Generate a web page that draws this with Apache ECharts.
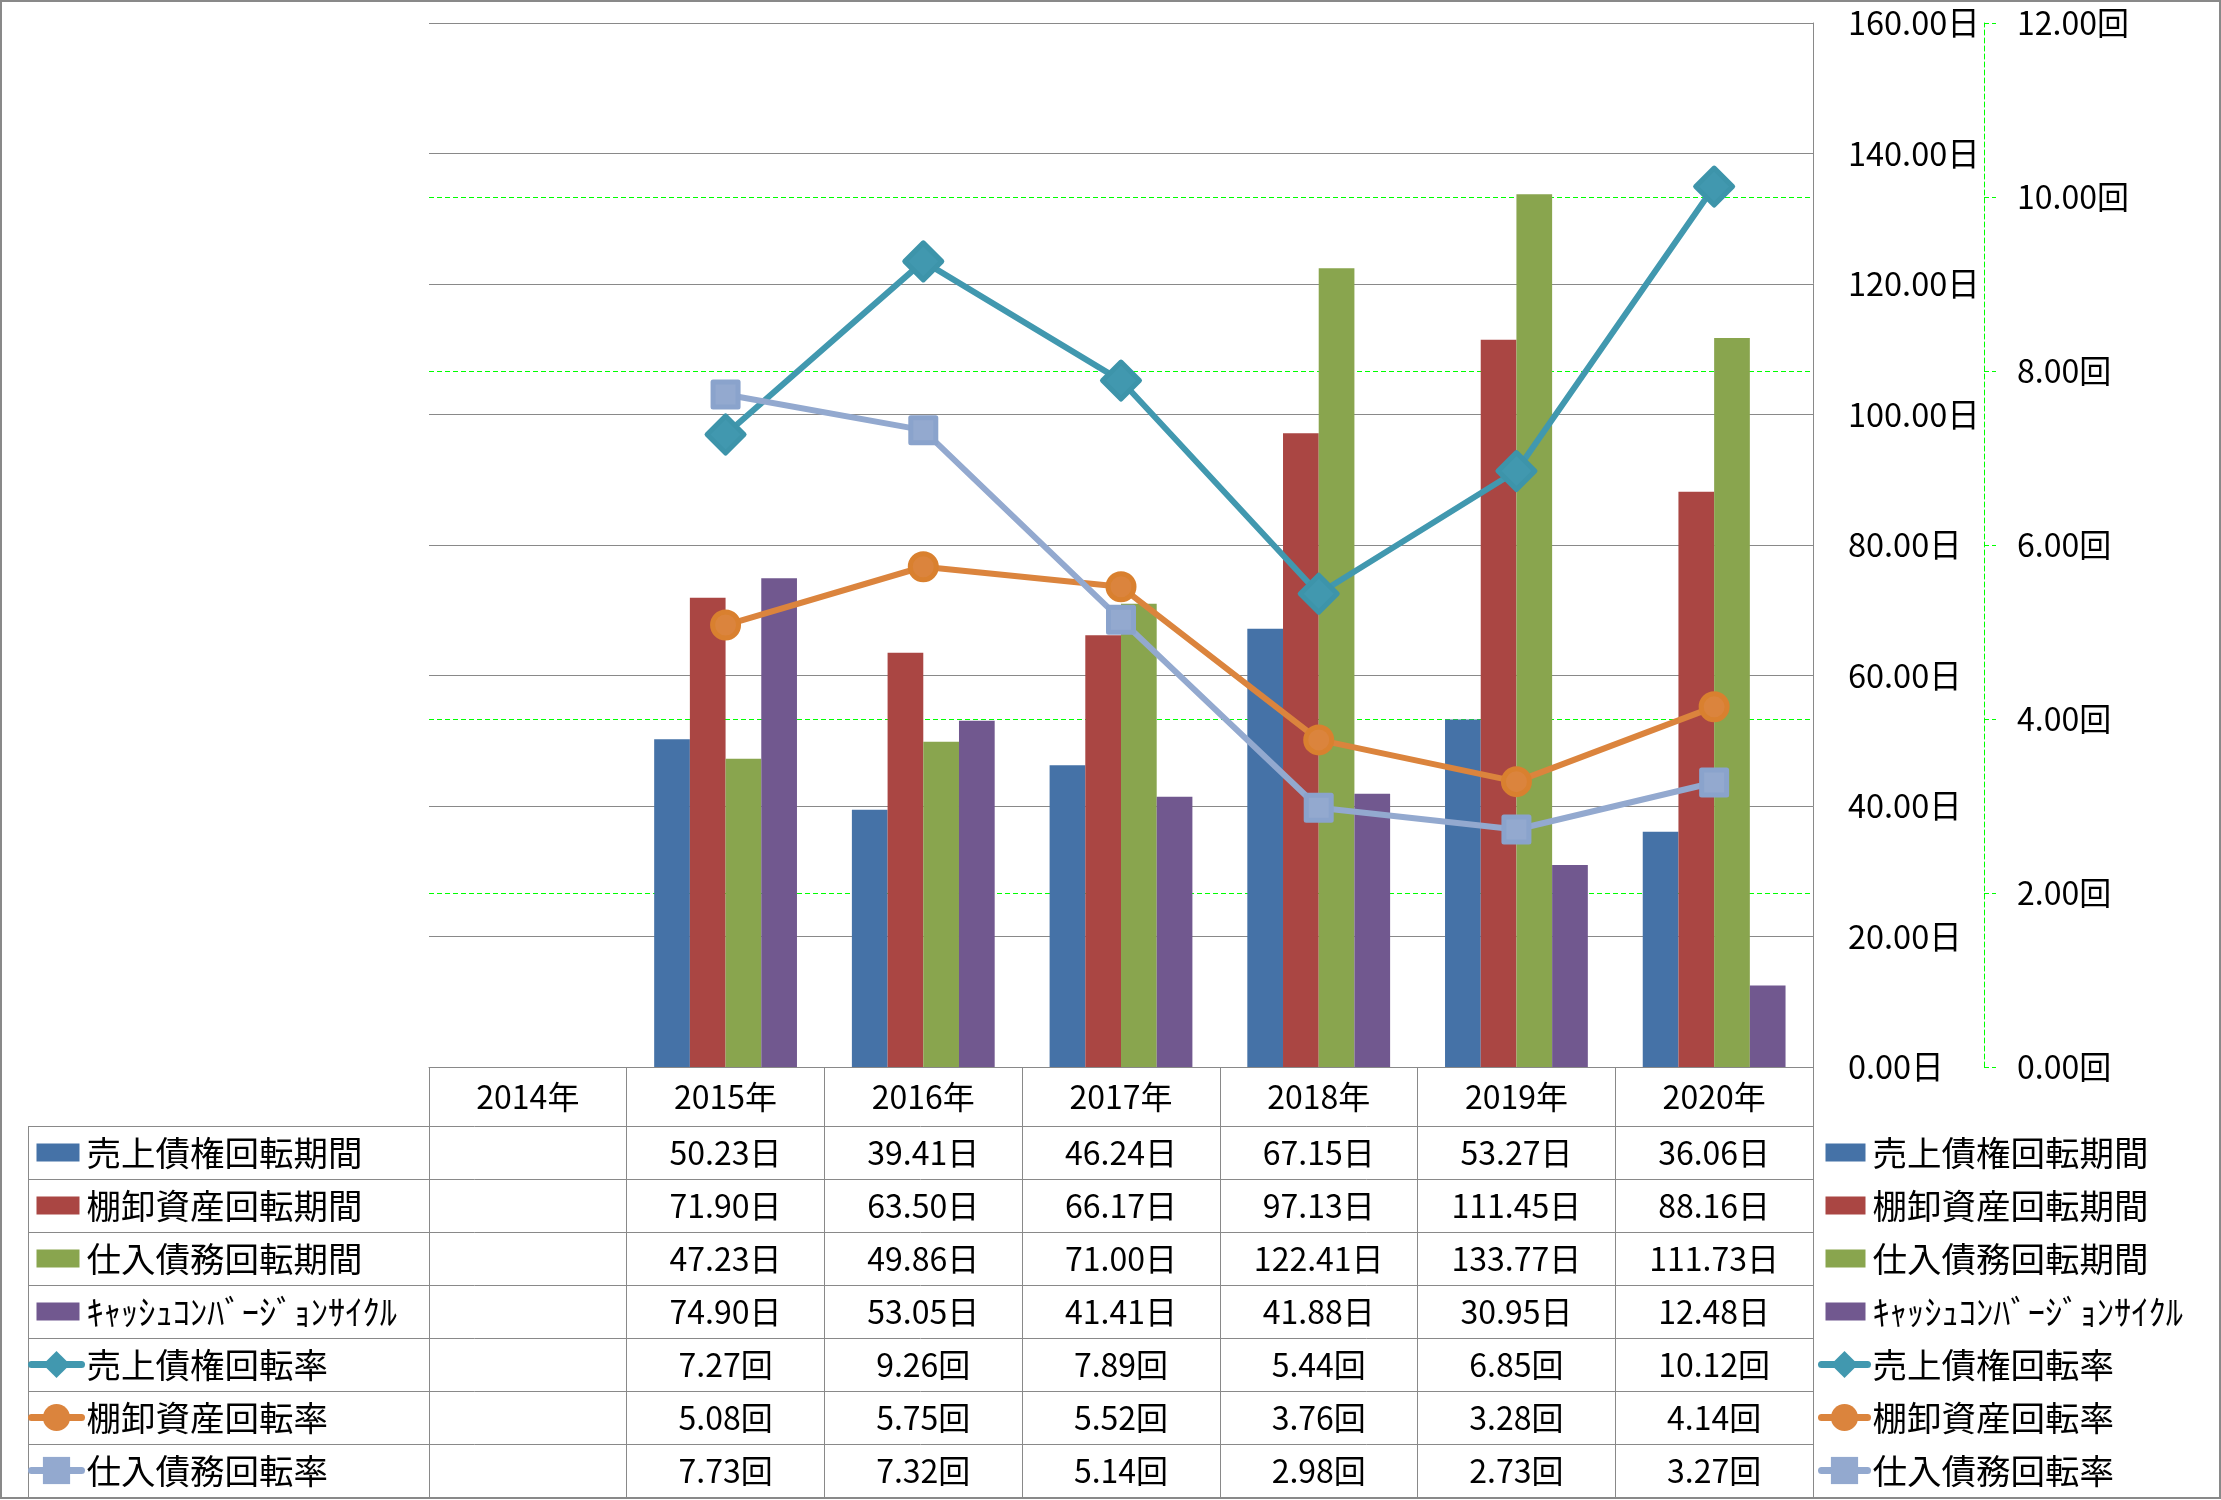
<!DOCTYPE html>
<html><head><meta charset="utf-8">
<script src="https://cdn.jsdelivr.net/npm/echarts@6/dist/echarts.min.js"></script>
<style>html,body{margin:0;padding:0;background:#fff}#c{width:2221px;height:1500px}</style>
</head><body><div id="c"></div>
<script>
const categories = ['2014年','2015年','2016年','2017年','2018年','2019年','2020年'];
const arDays  = [null, 50.23, 39.41, 46.24, 67.15, 53.27, 36.06];
const invDays = [null, 71.90, 63.50, 66.17, 97.13, 111.45, 88.16];
const apDays  = [null, 47.23, 49.86, 71.00, 122.41, 133.77, 111.73];
const cccDays = [null, 74.90, 53.05, 41.41, 41.88, 30.95, 12.48];
const arTurn  = [null, 7.27, 9.26, 7.89, 5.44, 6.85, 10.12];
const invTurn = [null, 5.08, 5.75, 5.52, 3.76, 3.28, 4.14];
const apTurn  = [null, 7.73, 7.32, 5.14, 2.98, 2.73, 3.27];
const seriesNames = ['売上債権回転期間','棚卸資産回転期間','仕入債務回転期間','ｷｬｯｼｭｺﾝﾊﾞｰｼﾞｮﾝｻｲｸﾙ','売上債権回転率','棚卸資産回転率','仕入債務回転率'];
const dayTicks = {min:0, max:160, interval:20};
const turnTicks = {min:0, max:12, interval:2};

const colors = ['#4572A7','#AA4643','#89A54E','#71588F','#4198AF','#DB843D','#93A9CF'];
const borderColors = ['', '', '', '', '#3D94AA', '#D9802F', '#8AA3CC'];
const FONT = '"Noto Sans CJK JP", "Noto Sans", sans-serif';
const GRAY = '#898989';

// layout
const L = 429, R = 1813, T = 23, B = 1067;
const headerBottom = 1126, tableBottom = 1497, legendColLeft = 28;
const rowH = (tableBottom - headerBottom) / 7;

const rows = [
  {data: arDays, unit: '日'}, {data: invDays, unit: '日'}, {data: apDays, unit: '日'}, {data: cccDays, unit: '日'},
  {data: arTurn, unit: '回'}, {data: invTurn, unit: '回'}, {data: apTurn, unit: '回'}
];

const xAxes = [{
  type: 'category', data: categories, position: 'bottom', boundaryGap: true,
  axisLine: {show: true, lineStyle: {color: GRAY, width: 1}},
  axisTick: {show: true, length: tableBottom - B, lineStyle: {color: GRAY, width: 1}},
  axisLabel: {interval: 0, margin: (headerBottom - B) / 2, verticalAlign: 'middle', fontSize: 32, color: '#000', fontFamily: FONT}
}];
rows.forEach((r, i) => {
  xAxes.push({
    type: 'category', data: categories, position: 'bottom', boundaryGap: true,
    axisLine: {show: false}, axisTick: {show: false}, splitLine: {show: false},
    axisLabel: {
      interval: 0, margin: headerBottom - B + rowH * (i + 0.5), verticalAlign: 'middle',
      fontSize: 32, color: '#000', fontFamily: FONT,
      formatter: (v, idx) => r.data[idx] == null ? '' : r.data[idx].toFixed(2) + r.unit
    }
  });
});

const graphics = [
  {type: 'rect', shape: {x: 1, y: 1, width: 2219, height: 1497}, style: {fill: null, stroke: GRAY, lineWidth: 2}, z: 0}
];
for (let i = 0; i <= 7; i++) {
  const y = Math.round(headerBottom + rowH * i) + 0.5;
  graphics.push({type: 'line', shape: {x1: legendColLeft, y1: y, x2: R, y2: y}, style: {stroke: GRAY, lineWidth: 1}, z: 0});
}
graphics.push({type: 'line', shape: {x1: legendColLeft + 0.5, y1: headerBottom, x2: legendColLeft + 0.5, y2: tableBottom}, style: {stroke: GRAY, lineWidth: 1}, z: 0});

const barData = [arDays, invDays, apDays, cccDays];
const lineData = [arTurn, invTurn, apTurn];
const lineSymbols = [['diamond', 37], ['circle', 26], ['rect', 25]];

const series = [];
barData.forEach((d, i) => series.push({
  name: seriesNames[i], type: 'bar', data: d, yAxisIndex: 0, xAxisIndex: 0,
  barWidth: 35.7, barGap: '0%', itemStyle: {color: colors[i]}, z: 2
}));
lineData.forEach((d, i) => series.push({
  name: seriesNames[4 + i], type: 'line', data: d, yAxisIndex: 1, xAxisIndex: 0,
  symbol: lineSymbols[i][0], symbolSize: lineSymbols[i][1], showAllSymbol: true,
  lineStyle: {color: colors[4 + i], width: 6},
  itemStyle: {color: colors[4 + i], borderColor: borderColors[4 + i], borderWidth: 5, borderJoin: 'round'}, z: 5
}));

function makeLegend(left, iw, rx0, rx1) {
  const ih = 34;
  const barIcon = 'path://M0,0 M' + rx0 + ',' + (ih / 2 - 9) + ' L' + rx1 + ',' + (ih / 2 - 9) + ' L' + rx1 + ',' + (ih / 2 + 9) + ' L' + rx0 + ',' + (ih / 2 + 9) + ' Z M' + iw + ',' + ih;
  return {
    orient: 'vertical', selectedMode: false, left: left, top: headerBottom + rowH / 2 - 20,
    data: seriesNames.map((n, i) => i < 4 ? {name: n, icon: barIcon} : {name: n}),
    itemWidth: iw, itemHeight: ih, itemGap: rowH - 40, padding: 0,
    lineStyle: {width: 7, cap: 'round'},
    itemStyle: {borderWidth: 0},
    textStyle: {fontSize: 34.5, lineHeight: 40, color: '#000', fontFamily: FONT}
  };
}

const chart = echarts.init(document.getElementById('c'));
chart.setOption({
  animation: false,
  textStyle: {fontFamily: FONT},
  grid: {left: L, right: 2221 - R, top: T, bottom: 1500 - B, containLabel: false},
  legend: [makeLegend(28, 50, 5, 48), makeLegend(1818, 46, 4, 44)],
  xAxis: xAxes,
  yAxis: [
    {type: 'value', position: 'right', min: dayTicks.min, max: dayTicks.max, interval: dayTicks.interval, z: 1,
     axisLine: {show: true, lineStyle: {color: GRAY, width: 1}}, axisTick: {show: false},
     axisLabel: {margin: 35, fontSize: 32.5, color: '#000', fontFamily: FONT, formatter: v => v.toFixed(2) + '日'},
     splitLine: {show: true, lineStyle: {color: GRAY, width: 1}}},
    {type: 'value', position: 'right', offset: 171, min: turnTicks.min, max: turnTicks.max, interval: turnTicks.interval, z: 0,
     axisLine: {show: true, lineStyle: {color: '#00FF00', width: 1, type: [5, 3]}},
     axisTick: {show: true, inside: false, length: 12, lineStyle: {color: '#00FF00', width: 1, type: [5, 3]}},
     axisLabel: {margin: 33, fontSize: 32, color: '#000', fontFamily: FONT, formatter: v => v.toFixed(2) + '回'},
     splitLine: {show: true, showMinLine: false, showMaxLine: false, lineStyle: {color: '#00FF00', width: 1, type: [5, 3]}}}
  ],
  graphic: graphics,
  series: series
});
</script></body></html>
